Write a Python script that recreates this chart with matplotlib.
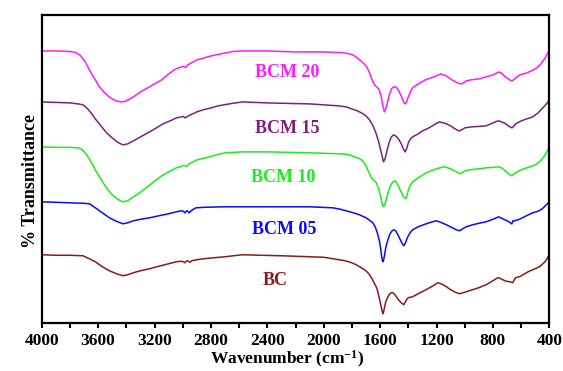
import matplotlib
matplotlib.use("Agg")
import matplotlib.pyplot as plt
from matplotlib.ticker import MultipleLocator

plt.rcParams['font.family'] = ['Liberation Serif', 'DejaVu Serif']
plt.rcParams['font.weight'] = 'bold'
plt.rcParams['mathtext.fontset'] = 'custom'
plt.rcParams['mathtext.rm'] = 'Liberation Serif:bold'
plt.rcParams['mathtext.bf'] = 'Liberation Serif:bold'
plt.rcParams['mathtext.it'] = 'Liberation Serif:bold'
plt.rcParams['mathtext.default'] = 'bf'

# ---- data (wavenumber, offset transmittance) ----
bcm20_wn = [4000, 3900, 3800, 3760, 3730, 3700, 3680, 3650, 3620, 3590, 3560, 3530, 3500, 3470,
            3440, 3410, 3380, 3350, 3300, 3250, 3200, 3150, 3100, 3050, 3010, 2995, 2980, 2965,
            2940, 2900, 2850, 2800, 2750, 2700, 2640, 2575, 2400, 2200, 2000, 1900, 1850, 1800,
            1770, 1740, 1720, 1700, 1680, 1660, 1640, 1625, 1610, 1595, 1580, 1570, 1560, 1550,
            1535, 1520, 1505, 1490, 1475, 1460, 1445, 1430, 1420, 1410, 1400, 1385, 1370, 1330,
            1280, 1220, 1170, 1130, 1090, 1050, 1020, 990, 960, 900, 850, 800, 760, 740, 720,
            700, 680, 665, 650, 630, 610, 560, 520, 490, 460, 430, 400]
bcm20_t = [272, 272, 271.5, 270.5, 268, 263, 258, 250, 243, 236, 231, 227, 224, 222,
           221, 221.5, 223.5, 226, 231, 235, 239, 243, 249, 254, 256, 256.5, 255.5, 258,
           260, 263, 265, 267, 268.5, 270, 271.5, 272, 272, 271, 271, 270.5, 270, 268.5,
           266, 262.5, 260, 257, 252, 244, 238, 236, 234, 228, 217, 211, 214, 219,
           228, 234, 236, 236, 234, 230, 225, 220, 219, 222, 226, 231, 235, 239,
           243, 246, 249, 247, 243, 240, 239, 242, 243, 244, 246, 248, 251, 250, 247,
           245, 243, 242, 243.5, 246, 248, 250, 252.5, 255, 259, 265, 273]

bcm15_wn = [4000, 3900, 3800, 3740, 3707, 3680, 3650, 3620, 3580, 3540, 3500, 3460, 3424, 3390,
            3350, 3300, 3235, 3180, 3140, 3090, 3045, 3010, 2995, 2985, 2970, 2960, 2930, 2900,
            2857, 2800, 2750, 2650, 2575, 2400, 2100, 1888, 1840, 1800, 1770, 1746, 1720, 1700,
            1675, 1650, 1630, 1610, 1595, 1576, 1565, 1550, 1535, 1520, 1505, 1490, 1470, 1450,
            1435, 1422, 1410, 1400, 1385, 1369, 1330, 1300, 1260, 1230, 1200, 1179, 1150, 1130,
            1100, 1080, 1050, 1036, 1010, 1000, 950, 848, 800, 775, 757, 740, 720, 700, 685,
            665, 650, 640, 620, 600, 560, 518, 480, 450, 420, 400]
bcm15_t = [221, 220.5, 220, 219, 218, 215, 210, 204, 197, 190, 185, 180.5, 178, 179,
           182, 186, 191, 195.5, 199, 202, 205, 206, 206.5, 205, 206, 207, 209, 211,
           213, 215, 217, 219.5, 221, 220, 219, 217, 216, 214, 212.5, 211, 209, 207,
           203, 197, 190, 181, 172, 161, 164, 173, 181, 186, 188, 187, 184, 179,
           174, 171, 175, 180, 184, 186, 189, 192, 194.5, 197, 199.5, 201, 200, 199,
           197, 195, 192.5, 192, 194, 195, 196, 197, 200, 201.5, 202, 201, 200, 198, 196.5,
           195, 197, 199, 200.5, 202, 204, 206, 210, 214.5, 219, 223]

bcm10_wn = [4000, 3900, 3800, 3740, 3715, 3695, 3672, 3650, 3620, 3590, 3560, 3530, 3500, 3460,
            3424, 3390, 3370, 3340, 3305, 3250, 3187, 3140, 3100, 3045, 3010, 2990, 2975, 2960,
            2940, 2900, 2850, 2809, 2750, 2700, 2575, 2400, 2100, 1865, 1820, 1780, 1750, 1734,
            1715, 1700, 1687, 1665, 1650, 1635, 1628, 1610, 1595, 1585, 1576, 1565, 1550, 1535,
            1520, 1505, 1494, 1480, 1465, 1450, 1435, 1419, 1410, 1400, 1385, 1369, 1330, 1274,
            1230, 1200, 1155, 1130, 1100, 1060, 1030, 1010, 1000, 967, 900, 848, 800, 759, 740,
            720, 700, 690, 665, 650, 630, 600, 550, 500, 470, 450, 425, 400]
bcm10_t = [176, 175.5, 175.5, 175, 173.5, 170.5, 166, 161, 153, 146, 139, 133, 128, 123.5,
           121, 122, 124, 127, 130, 136, 143, 148, 151, 155, 156.5, 157.5, 156.5, 158.5,
           160, 163, 164.5, 166, 168.5, 170, 171, 171, 170, 169, 168, 166, 164.5, 163,
           160.5, 157, 152.5, 146, 143, 141.5, 140, 134, 125, 119, 116, 119, 127, 134,
           139, 141.5, 142, 139.5, 135, 130.5, 126, 124, 127, 133, 138, 141, 145, 150,
           152.5, 154, 156, 155.5, 154, 151, 149, 151, 152, 153, 154, 155, 155.5, 156, 155,
           153, 150.5, 149, 147, 149, 151, 153, 155.5, 158, 161, 164, 169, 176]

bcm05_wn = [4000, 3900, 3800, 3700, 3660, 3630, 3600, 3560, 3520, 3470, 3424, 3390, 3350, 3300,
            3235, 3170, 3100, 3045, 3010, 2995, 2985, 2975, 2968, 2955, 2940, 2920, 2904, 2850,
            2700, 2575, 2100, 1935, 1880, 1841, 1790, 1746, 1700, 1670, 1652, 1635, 1620, 1605,
            1595, 1588, 1581, 1575, 1568, 1560, 1545, 1530, 1515, 1503, 1490, 1470, 1450, 1440,
            1432, 1420, 1410, 1400, 1385, 1369, 1330, 1274, 1240, 1203, 1170, 1130, 1087, 1060,
            1036, 1020, 990, 943, 900, 848, 800, 759, 745, 730, 700, 680, 670, 665, 658, 650,
            640, 620, 570, 518, 480, 450, 425, 400]
bcm05_t = [121, 120.5, 120, 119.5, 119, 116, 113, 109, 105, 101.5, 99, 100, 102, 103.5,
           105, 107, 109, 111, 112, 111.5, 110, 111.5, 112, 110, 112, 114, 115, 115.5,
           116, 116, 116, 115, 113.5, 112, 110, 108, 105, 102, 100, 96, 90, 82,
           73, 65, 61, 63, 68, 75, 83, 89, 92, 93, 92, 87, 81, 78.5,
           77, 80, 84, 87, 90.5, 93, 96, 99, 100.5, 102, 100.5, 98, 95, 93,
           92, 93.5, 96, 98, 99.5, 101, 103.5, 106, 105, 104, 102, 100.5, 99, 99, 102, 101.5,
           102.5, 103, 106.5, 110, 111.5, 114, 117.5, 121]

bc_wn = [4000, 3900, 3800, 3707, 3670, 3620, 3570, 3520, 3470, 3424, 3390, 3350, 3300, 3235,
         3170, 3100, 3045, 3010, 2995, 2985, 2975, 2965, 2950, 2935, 2904, 2850, 2780, 2700,
         2640, 2575, 2450, 2300, 2100, 2000, 1935, 1890, 1850, 1810, 1770, 1740, 1710, 1690,
         1675, 1655, 1640, 1628, 1620, 1610, 1600, 1590, 1581, 1575, 1568, 1560, 1545, 1530,
         1520, 1510, 1495, 1480, 1470, 1450, 1432, 1420, 1410, 1400, 1385, 1369, 1330, 1274,
         1230, 1191, 1160, 1130, 1110, 1087, 1060, 1036, 1000, 967, 900, 848, 800, 766, 750,
         730, 707, 680, 660, 650, 640, 612, 580, 550, 510, 470, 430, 400]
bc_t = [68, 67.5, 67.5, 67, 64.5, 61, 56, 52, 49, 47, 48, 50, 52, 54,
        56.5, 59, 61, 61.5, 61, 60, 61.5, 62, 60.5, 62, 63, 64, 65, 66,
        67, 68, 67.5, 67, 66, 65.5, 64, 63, 62, 60.5, 58, 55.5, 53, 50.5,
        48, 43.5, 39, 36, 33, 27, 21, 14, 9, 11, 16, 21, 26, 29,
        30, 30, 28, 25, 23, 20, 18, 21, 23.5, 25, 25.5, 26, 29, 33,
        36.5, 40, 38.5, 36, 34, 32, 30, 29, 30.5, 32, 35, 38, 42, 45, 44.5,
        43, 41.5, 41, 40, 42.5, 45, 46, 48.5, 51, 53.5, 56, 61, 68]

series_names = ['BCM 20', 'BCM 15', 'BCM 10', 'BCM 05', 'BC']
series_colors = ['#ff1aff', '#7f1f7f', '#1aee1a', '#0a0aff', '#8b1a1a']
label_pos = [(2257, 246), (2257, 190), (2285, 141), (2282, 89), (2345, 38)]

xticks_major = [4000, 3600, 3200, 2800, 2400, 2000, 1600, 1200, 800, 400]

fig = plt.figure(figsize=(5.63, 3.71), dpi=100)
ax = fig.add_axes([0.0741, 0.1302, 0.9016, 0.8294])

data = [(bcm20_wn, bcm20_t), (bcm15_wn, bcm15_t), (bcm10_wn, bcm10_t),
        (bcm05_wn, bcm05_t), (bc_wn, bc_t)]
for (wn, t), name, col, (lx, ly) in zip(data, series_names, series_colors, label_pos):
    ax.plot(wn, t, color=col, lw=1.1, solid_joinstyle='round')
    ax.text(lx, ly, name, color=col, fontsize=13, fontweight='bold',
            ha='center', va='baseline')

ax.set_xlim(4000, 400)
ax.set_ylim(0, 308)
ax.set_xticks(xticks_major)
ax.xaxis.set_minor_locator(MultipleLocator(200))
ax.set_yticks([])
ax.tick_params(axis='x', which='both', direction='out', length=3.5, width=1.5,
               labelsize=12.5, pad=4, top=False)
for lab in ax.get_xticklabels():
    lab.set_fontweight('bold')
for s in ax.spines.values():
    s.set_linewidth(1.6)

ax.set_xlabel('Wavenumber (cm$^{-1}$)', fontsize=12.5, fontweight='bold', labelpad=0)
ax.xaxis.label.set_x(0.483)
ax.set_ylabel('% Transmittance', fontsize=13, fontweight='bold', labelpad=2)
ax.yaxis.label.set_y(0.46)

fig.savefig('out.png', dpi=100)
